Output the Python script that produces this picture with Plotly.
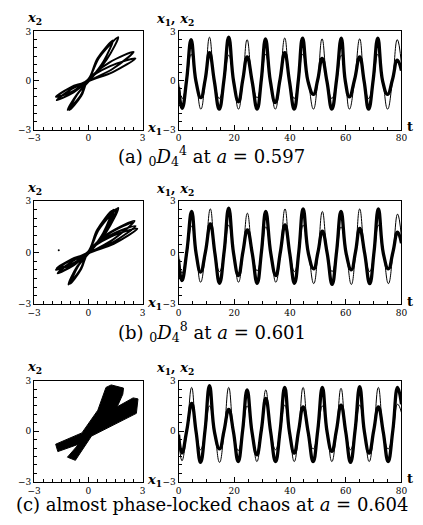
import plotly.graph_objects as go

# ---------------- data ----------------
# (a) a = 0.597 : time series
t_a = [0, 1.3, 2.9, 4.5, 6.25, 8.0, 9.55, 11.1, 12.85, 14.6, 16.3, 18.0, 19.75, 21.5, 23.05, 24.6,
       26.4, 28.2, 29.7, 31.2, 32.95, 34.7, 36.4, 38.1, 39.8, 41.5, 43.0, 44.5, 46.45, 48.4, 49.95,
       51.5, 53.25, 55.0, 56.7, 58.4, 59.85, 61.3, 63.15, 65.0, 66.6, 68.2, 69.85, 71.5, 73.25, 75.0,
       76.75, 78.5, 80]
x1_a = [-0.4, -1.7, 0.05, 2.5, -0.05, -1.05, 0.05, 1.7, -0.05, -1.75, 0.05, 2.65, -0.05, -1.3, 0.05, 1.45,
        -0.05, -1.75, 0.05, 2.55, -0.05, -1.35, 0.05, 1.7, -0.05, -1.75, 0.05, 2.6, -0.05, -0.85, 0.05,
        1.35, -0.05, -1.75, 0.05, 2.6, -0.05, -1.0, 0.05, 1.45, -0.05, -1.75, 0.05, 2.6, -0.05, -0.85,
        0.05, 1.25, 0.6]
x2_a = [-0.1, -1.1, -0.05, 1.6, 0.05, -1.75, -0.05, 2.65, 0.05, -1.1, -0.05, 1.55, 0.05, -1.75, -0.05, 2.5,
        0.05, -1.05, -0.05, 1.6, 0.05, -1.75, -0.05, 2.6, 0.05, -1.1, -0.05, 1.6, 0.05, -1.75, -0.05,
        2.55, 0.05, -1.1, -0.05, 1.55, 0.05, -1.75, -0.05, 2.55, 0.05, -1.1, -0.05, 1.6, 0.05, -1.75,
        -0.05, 2.5, 1.0]
# (a) attracting orbit in the (x1, x2) plane (four oscillations)
orbit_x1_a = [-1.8, -0.9, 0.0, 1.35, 2.6, 1.2, 0.0, -0.4,
              -1.05, -0.62, 0.03, 1.02, 1.65, 0.6, -0.03, -0.9,
              -1.75, -0.82, 0.02, 1.35, 2.5, 1.15, 0.0, -0.45,
              -1.15, -0.65, 0.03, 0.85, 1.35, 0.5, -0.03, -0.95, -1.8]
orbit_x2_a = [-1.0, -0.68, -0.05, 0.52, 1.35, 0.88, 0.05, -0.95,
              -1.8, -0.85, -0.03, 1.3, 2.65, 1.42, 0.05, -0.5,
              -1.2, -0.72, -0.04, 0.72, 1.75, 1.1, 0.05, -0.95,
              -1.8, -0.88, -0.02, 1.2, 2.45, 1.35, 0.04, -0.4, -1.0]

# (b) a = 0.601 : time series
t_b = [0, 1.2, 2.95, 4.7, 6.3, 7.9, 9.65, 11.4, 13.05, 14.7, 16.35, 18.0, 19.75, 21.5, 23.1, 24.7,
       26.45, 28.2, 29.75, 31.3, 33.1, 34.9, 36.55, 38.2, 39.9, 41.6, 43.15, 44.7, 46.6, 48.5, 50.05,
       51.6, 53.35, 55.1, 56.7, 58.3, 60.15, 62.0, 63.5, 65.0, 66.8, 68.6, 70.15, 71.7, 73.5, 75.3,
       76.95, 78.6, 80]
x1_b = [-0.4, -1.62, 0.05, 2.4, -0.05, -1.13, 0.05, 1.68, -0.05, -1.78, 0.05, 2.6, -0.05, -1.33, 0.05, 1.33,
        -0.05, -1.78, 0.05, 2.4, -0.05, -1.33, 0.05, 1.62, -0.05, -1.78, 0.05, 2.55, -0.05, -0.94, 0.05,
        1.25, -0.05, -1.85, 0.05, 2.4, -0.05, -1.0, 0.05, 1.42, -0.05, -1.8, 0.05, 2.55, -0.05, -0.94,
        0.05, 1.2, 0.55]
x2_b = [-0.1, -1.2, -0.05, 1.55, 0.05, -1.72, -0.05, 2.55, 0.05, -1.1, -0.05, 1.6, 0.05, -1.72, -0.05, 2.3,
        0.05, -1.05, -0.05, 1.5, 0.05, -1.72, -0.05, 2.55, 0.05, -1.1, -0.05, 1.6, 0.05, -1.8, -0.05,
        2.4, 0.05, -1.1, -0.05, 1.5, 0.05, -1.85, -0.05, 2.55, 0.05, -1.1, -0.05, 1.6, 0.05, -1.8,
        -0.05, 2.25, 0.9]
# (b) attracting orbit (eight oscillations)
orbit_x1_b = [-1.75, -0.85, 0.02, 1.4, 2.7, 1.22, -0.02, -0.4,
              -1.0, -0.62, 0.03, 1.0, 1.65, 0.6, -0.03, -0.9,
              -1.7, -0.8, 0.02, 1.38, 2.55, 1.15, 0.0, -0.45,
              -1.1, -0.65, 0.03, 0.82, 1.3, 0.48, -0.03, -0.95,
              -1.8, -0.88, 0.02, 1.38, 2.6, 1.18, -0.01, -0.38,
              -0.95, -0.58, 0.03, 0.95, 1.55, 0.56, -0.03, -0.86,
              -1.65, -0.78, 0.02, 1.3, 2.45, 1.1, 0.0, -0.42,
              -1.05, -0.62, 0.03, 0.9, 1.4, 0.52, -0.03, -0.92, -1.75]
orbit_x2_b = [-0.9, -0.62, -0.03, 0.52, 1.4, 0.92, 0.04, -0.95,
              -1.8, -0.82, -0.02, 1.22, 2.6, 1.38, 0.04, -0.5,
              -1.2, -0.72, -0.04, 0.78, 1.85, 1.15, 0.05, -0.98,
              -1.85, -0.85, -0.02, 1.15, 2.45, 1.32, 0.04, -0.42,
              -1.0, -0.66, -0.03, 0.62, 1.55, 1.0, 0.05, -0.9,
              -1.7, -0.8, -0.02, 1.2, 2.55, 1.36, 0.04, -0.48,
              -1.15, -0.68, -0.04, 0.72, 1.75, 1.08, 0.05, -0.96,
              -1.8, -0.84, -0.02, 1.18, 2.5, 1.34, 0.04, -0.38, -0.9]
stray_x1_b = [-1.64]
stray_x2_b = [0.14]

# (c) a = 0.604 : time series
t_c = [0, 1.2, 2.95, 4.7, 6.3, 7.9, 9.5, 11.1, 12.9, 14.7, 16.35, 18.0, 19.7, 21.4, 23.0, 24.6,
       26.35, 28.1, 29.7, 31.3, 33.05, 34.8, 36.45, 38.1, 39.8, 41.5, 43.1, 44.7, 46.5, 48.3, 49.95,
       51.6, 53.3, 55.0, 56.65, 58.3, 60.0, 61.7, 63.35, 65.0, 66.7, 68.4, 70.05, 71.7, 73.45, 75.2,
       76.9, 78.6, 80]
x1_c = [-0.2, -1.3, 0.05, 1.65, -0.05, -1.85, 0.05, 2.7, -0.05, -1.05, 0.05, 1.3, -0.05, -1.8, 0.05, 2.45,
        -0.05, -1.4, 0.05, 1.95, -0.05, -1.8, 0.05, 2.6, -0.05, -1.3, 0.05, 1.45, -0.05, -1.8, 0.05,
        2.6, -0.05, -1.2, 0.05, 1.55, -0.05, -1.85, 0.05, 2.65, -0.05, -1.3, 0.05, 1.45, -0.05, -1.8,
        0.05, 2.6, 1.6]
x2_c = [0.0, -1.75, -0.05, 2.6, 0.05, -1.1, -0.05, 1.5, 0.05, -1.85, -0.05, 2.6, 0.05, -1.15, -0.05, 1.5,
        0.05, -1.8, -0.05, 2.45, 0.05, -1.1, -0.05, 1.55, 0.05, -1.8, -0.05, 2.6, 0.05, -1.05, -0.05,
        1.5, 0.05, -1.8, -0.05, 2.55, 0.05, -1.1, -0.05, 1.55, 0.05, -1.8, -0.05, 2.6, 0.05, -1.05,
        -0.05, 1.6, 1.1]
# (c) outline of the dense chaotic attractor in the (x1, x2) plane
chaos_x1 = [0.97, 1.26, 1.94, 1.9, 1.59, 2.47, 2.74, 2.65, 0.17, -0.72, -1.16, -0.54, -1.69, -1.81, -0.36, 0.52]
chaos_x2 = [2.6, 2.75, 2.56, 2.2, 1.45, 1.98, 1.92, 1.06, -0.29, -1.73, -1.54, -0.77, -1.21, -0.77, -0.1, 1.25]

phase_ticks = [-3, 0, 3]
phase_ticktext = ["\u22123", "0", "3"]
time_ticks = [0, 20, 40, 60, 80]
time_ticktext = ["0", "20", "40", "60", "80"]
captions = [
    "(a) <sub>0</sub><i>D</i><sub>4</sub><sup>4</sup> at <i>a</i> = 0.597",
    "(b) <sub>0</sub><i>D</i><sub>4</sub><sup>8</sup> at <i>a</i> = 0.601",
    "(c) almost phase-locked chaos at <i>a</i> = 0.604",
]

# ---------------- layout geometry (pixels) ----------------
W, H = 423, 525
PX0, PX1 = 28, 140      # phase panel left/right
TX0, TX1 = 177, 407     # time panel left/right
rows = [(27, 127), (200, 305), (383, 486)]
cap_y = [154, 333, 509]

def px(x):
    return x / W

def py(y):
    return 1 - y / H

fig = go.Figure()

FONT = "DejaVu Serif"
tickfont = dict(family=FONT, size=9, color="black")

def axis_common(rng, tickvals, ticktext, minor_dtick, domain, anchor):
    return dict(range=rng, domain=domain, anchor=anchor, showline=True, linecolor="black",
                linewidth=1, mirror=True, ticks="inside", ticklen=5, tickwidth=1,
                tickcolor="black", showgrid=False, zeroline=False, tickmode="array",
                tickvals=tickvals, ticktext=ticktext, tickfont=tickfont,
                minor=dict(ticks="inside", ticklen=3, tickcolor="black", tickmode="linear",
                           tick0=0, dtick=minor_dtick, showgrid=False))

series = [(t_a, x1_a, x2_a), (t_b, x1_b, x2_b), (t_c, x1_c, x2_c)]
orbits = [(orbit_x1_a, orbit_x2_a), (orbit_x1_b, orbit_x2_b)]
layout_axes = {}
for i, (top, bot) in enumerate(rows):
    ydom = [py(bot), py(top)]
    pa = 2 * i + 1
    ta = 2 * i + 2
    xn_p = "x" if pa == 1 else f"x{pa}"
    yn_p = "y" if pa == 1 else f"y{pa}"
    xn_t, yn_t = f"x{ta}", f"y{ta}"
    layout_axes["xaxis" if pa == 1 else f"xaxis{pa}"] = axis_common(
        [-3, 3], phase_ticks, phase_ticktext, 0.5, [px(PX0), px(PX1)], yn_p)
    layout_axes["yaxis" if pa == 1 else f"yaxis{pa}"] = axis_common(
        [-3, 3], phase_ticks, phase_ticktext, 0.5, ydom, xn_p)
    layout_axes[f"xaxis{ta}"] = axis_common(
        [0, 80], time_ticks, time_ticktext, 5, [px(TX0), px(TX1)], yn_t)
    layout_axes[f"yaxis{ta}"] = axis_common(
        [-3, 3], phase_ticks, phase_ticktext, 0.5, ydom, xn_t)

    t, x1, x2 = series[i]
    if i < 2:
        ox, oy = orbits[i]
        fig.add_trace(go.Scatter(x=ox, y=oy, mode="lines", xaxis=xn_p, yaxis=yn_p,
                                 line=dict(color="black", width=2, shape="spline")))
    else:
        fig.add_trace(go.Scatter(x=chaos_x1 + chaos_x1[:1], y=chaos_x2 + chaos_x2[:1],
                                 mode="lines", fill="toself", fillcolor="black",
                                 xaxis=xn_p, yaxis=yn_p,
                                 line=dict(color="black", width=1, shape="linear")))
    fig.add_trace(go.Scatter(x=t, y=x2, mode="lines", xaxis=xn_t, yaxis=yn_t,
                             line=dict(color="black", width=1, shape="spline", smoothing=1.3)))
    fig.add_trace(go.Scatter(x=t, y=x1, mode="lines", xaxis=xn_t, yaxis=yn_t,
                             line=dict(color="black", width=3.3, shape="spline", smoothing=1.3)))

fig.add_trace(go.Scatter(x=stray_x1_b, y=stray_x2_b, mode="markers", xaxis="x3", yaxis="y3",
                         marker=dict(color="black", size=2)))

ann = []
lab = dict(family=FONT, size=13, color="black")
for i, (top, bot) in enumerate(rows):
    ann.append(dict(text="<b><i>x</i><sub>2</sub></b>", x=px(19), y=py(top - 13),
                    xref="paper", yref="paper", xanchor="left", yanchor="middle",
                    showarrow=False, font=lab))
    ann.append(dict(text="<b><i>x</i><sub>1</sub></b>", x=px(142), y=py(bot - 1),
                    xref="paper", yref="paper", xanchor="left", yanchor="middle",
                    showarrow=False, font=lab))
    ann.append(dict(text="<b><i>x</i><sub>1</sub>, <i>x</i><sub>2</sub></b>", x=px(152),
                    y=py(top - 12), xref="paper", yref="paper", xanchor="left",
                    yanchor="middle", showarrow=False, font=lab))
    ann.append(dict(text="<b>t</b>", x=px(411), y=py(bot - 3), xref="paper", yref="paper",
                    xanchor="left", yanchor="middle", showarrow=False,
                    font=dict(family=FONT, size=13, color="black")))
    ann.append(dict(text=captions[i], x=px(211), y=py(cap_y[i]), xref="paper", yref="paper",
                    xanchor="center", yanchor="middle", showarrow=False,
                    font=dict(family=FONT, size=18, color="black")))

fig.update_layout(width=W, height=H, margin=dict(l=0, r=0, t=0, b=0),
                  paper_bgcolor="white", plot_bgcolor="white", showlegend=False,
                  annotations=ann, **layout_axes)

fig.write_html("out.html", config={"displayModeBar": False},
               post_script="document.body.style.margin='0';")
